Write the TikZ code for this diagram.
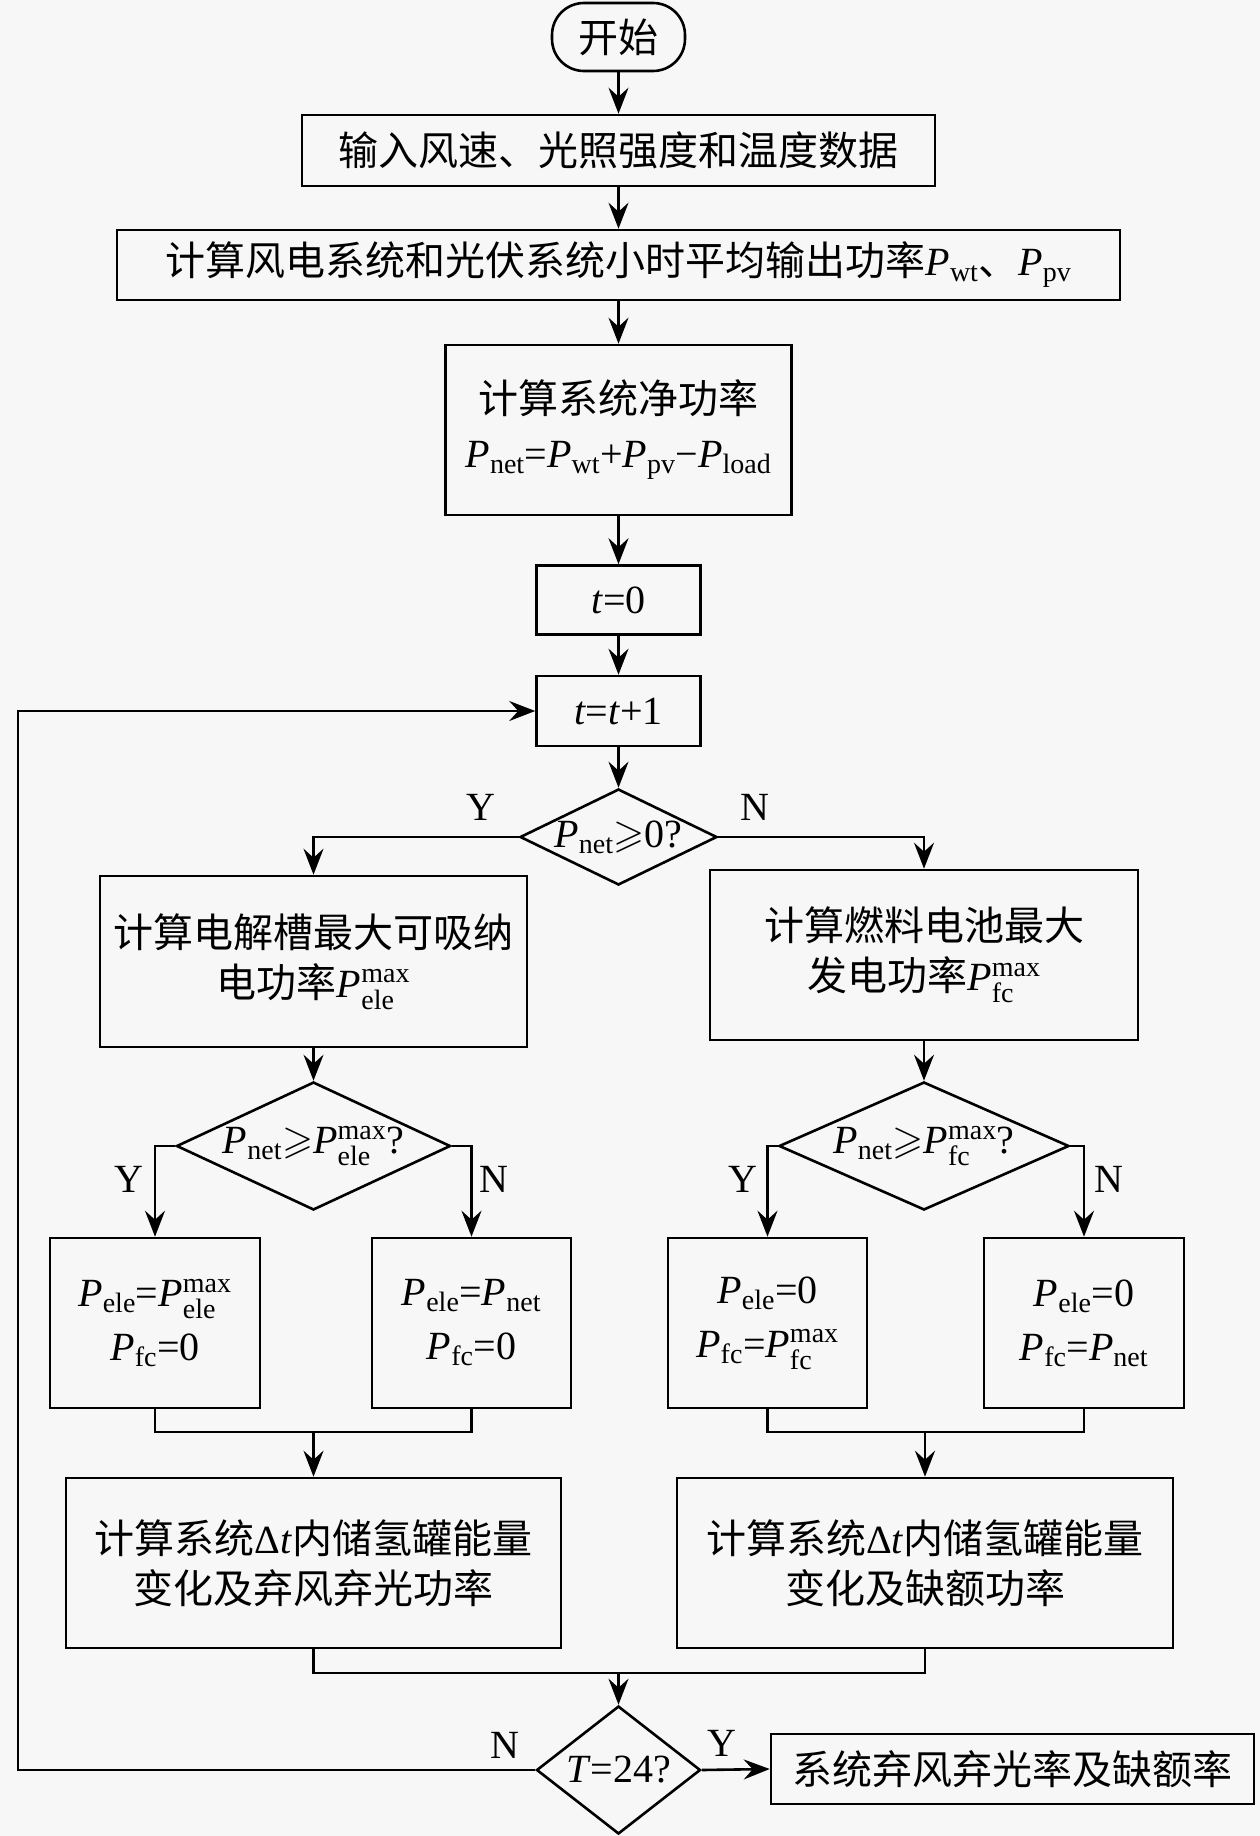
\RequirePackage{fix-cm}
\documentclass[tikz,border=0pt]{standalone}
\usepackage{amsmath,amssymb}
\usepackage{fontspec}
\setmainfont{Liberation Serif}
\newfontfamily\cjk{Noto Sans CJK SC}
\usetikzlibrary{shapes.geometric,arrows.meta}
\newcommand{\Ps}[1]{\textit{P}\ensuremath{_{\text{#1}}}}
\newcommand{\Pm}[1]{\textit{P}\ensuremath{^{\text{max}}_{\text{#1}}}}
\begin{document}
\begin{tikzpicture}[x=1pt,y=-1pt,
  every node/.style={font=\fontsize{40}{50}\selectfont, inner sep=0pt},
  box/.style={draw, line width=2.6pt, rectangle, align=center},
  dia/.style={draw, line width=2.6pt, diamond, aspect=1},
  ln/.style={line width=2.6pt},
  arr/.style={-{Stealth[length=26pt,width=20pt,inset=9pt]}},
  lab/.style={font=\fontsize{40}{48}\selectfont}]
\fill[white!97!black] (0,0) rectangle (1260,1836);
\useasboundingbox (0,0) rectangle (1260,1836);

\node[box, rounded corners=32pt, minimum width=133pt, minimum height=68pt] (start) at (618.5,37) {\cjk 开始};
\node[box, minimum width=633pt, minimum height=71pt] (b1) at (618.5,150.5) {\cjk 输入风速、光照强度和温度数据};
\node[box, minimum width=1003pt, minimum height=70pt] (b2) at (618.5,265) {{\cjk 计算风电系统和光伏系统小时平均输出功率}\Ps{wt}{\cjk 、}\Ps{pv}};
\node[box, minimum width=346pt, minimum height=170pt] (b3) at (618.5,430) {{\cjk 计算系统净功率}\\[4pt] \Ps{net}=\Ps{wt}+\Ps{pv}−\Ps{load}};
\node[box, minimum width=164pt, minimum height=69pt] (t0) at (618.5,600) {\textit{t}=0};
\node[box, minimum width=164pt, minimum height=70pt] (t1) at (618.5,711) {\textit{t}=\textit{t}+1};
\node[dia, minimum width=197pt, minimum height=96pt] (d1) at (618.5,837) {\makebox[0pt]{\Ps{net}$\geqslant$0?}};

\node[box, minimum width=427pt, minimum height=171pt] (L1) at (313.5,961.5) {{\cjk 计算电解槽最大可吸纳}\\{\cjk 电功率}\Pm{ele}};
\node[box, minimum width=428pt, minimum height=170pt] (R1) at (924,955) {{\cjk 计算燃料电池最大}\\{\cjk 发电功率}\Pm{fc}};

\node[dia, minimum width=274pt, minimum height=128pt] (dL2) at (313.5,1146) {\makebox[0pt]{\Ps{net}$\geqslant$\Pm{ele}?}};
\node[dia, minimum width=290pt, minimum height=128pt] (dR2) at (924,1146) {\makebox[0pt]{\Ps{net}$\geqslant$\Pm{fc}?}};

\node[box, minimum width=210pt, minimum height=170pt] (P1) at (155,1323) {\Ps{ele}=\Pm{ele}\\[4pt]\Ps{fc}=0};
\node[box, minimum width=199pt, minimum height=170pt] (P2) at (471.5,1323) {\Ps{ele}=\Ps{net}\\[4pt]\Ps{fc}=0};
\node[box, minimum width=199pt, minimum height=170pt] (P3) at (767.5,1323) {\Ps{ele}=0\\[4pt]\Ps{fc}=\Pm{fc}};
\node[box, minimum width=200pt, minimum height=170pt] (P4) at (1084,1323) {\Ps{ele}=0\\[4pt]\Ps{fc}=\Ps{net}};

\node[box, minimum width=495pt, minimum height=170pt] (Q1) at (313.5,1563) {{\cjk 计算系统}Δ\textit{t}{\cjk 内储氢罐能量}\\{\cjk 变化及弃风弃光功率}};
\node[box, minimum width=496pt, minimum height=170pt] (Q2) at (925,1563) {{\cjk 计算系统}Δ\textit{t}{\cjk 内储氢罐能量}\\{\cjk 变化及缺额功率}};

\node[dia, minimum width=164pt, minimum height=128pt] (dT) at (618.5,1770) {\makebox[0pt]{\textit{T}=24?}};
\node[box, minimum width=483pt, minimum height=70pt] (F) at (1012.5,1769) {\cjk 系统弃风弃光率及缺额率};

\node[lab] (y1) at (481,807) {Y};
\node[lab] (n1) at (755,807) {N};
\node[lab] (y2) at (129,1179) {Y};
\node[lab] (n2) at (494,1179) {N};
\node[lab] (y3) at (743,1179) {Y};
\node[lab] (n3) at (1109,1179) {N};
\node[lab] (n4) at (505,1745) {N};
\node[lab] (y4) at (722,1743) {Y};

\draw[ln,arr] (start) -- (b1);
\draw[ln,arr] (b1) -- (b2);
\draw[ln,arr] (b2) -- (b3);
\draw[ln,arr] (b3) -- (t0);
\draw[ln,arr] (t0) -- (t1);
\draw[ln,arr] (t1) -- (d1);
\draw[ln,arr] (d1.west) -| (L1.north);
\draw[ln,arr] (d1.east) -| (R1.north);
\draw[ln,arr] (L1) -- (dL2);
\draw[ln,arr] (R1) -- (dR2);
\draw[ln,arr] (dL2.west) -| (P1.north);
\draw[ln,arr] (dL2.east) -| (P2.north);
\draw[ln,arr] (dR2.west) -| (P3.north);
\draw[ln,arr] (dR2.east) -| (P4.north);
\coordinate (m1) at (313.5,1432);
\coordinate (m2) at (925,1432);
\coordinate (m3) at (618.5,1673);
\draw[ln] (P1.south) |- (m1) -| (P2.south);
\draw[ln] (P3.south) |- (m2) -| (P4.south);
\draw[ln,arr] (m1) -- (Q1.north);
\draw[ln,arr] (m2) -- (Q2.north);
\draw[ln] (Q1.south) |- (m3) -| (Q2.south);
\draw[ln,arr] (m3) -- (dT.north);
\draw[ln,arr] (dT.east) -- (F.west);
\coordinate (lp) at (18,1770);
\draw[ln,arr] (dT.west) -- (lp) |- (t1.west);
\end{tikzpicture}
\end{document}
